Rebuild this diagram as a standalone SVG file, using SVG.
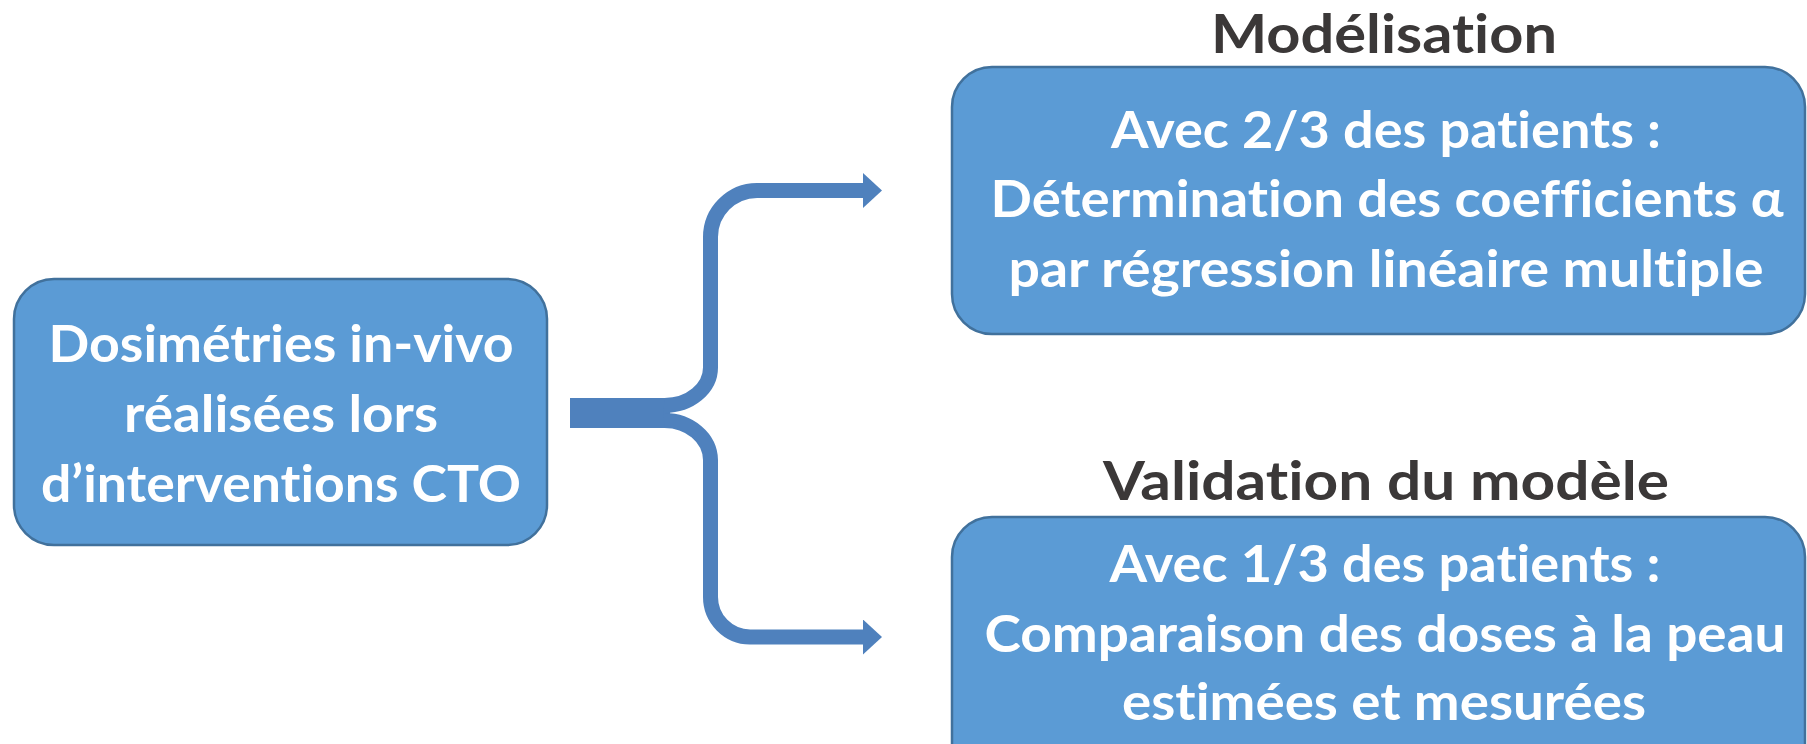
<svg xmlns="http://www.w3.org/2000/svg" width="1807" height="744" viewBox="0 0 1807 744">
  <style>
    .box { fill: #5B9BD5; stroke: #41719C; stroke-width: 2.5; }
    .txt { font-family: Lato, "Liberation Sans", sans-serif; font-weight: 700; fill: #FFFFFF; font-size: 52px; text-anchor: middle; font-variant-ligatures: none; }
    .title { font-family: Lato, "Liberation Sans", sans-serif; font-weight: 700; fill: #3B3838; font-size: 54px; text-anchor: middle; font-variant-ligatures: none; }
    .conn { fill: none; stroke: #4F81BD; stroke-width: 15; }
  </style>
  <defs>
    <marker id="arrow" markerUnits="userSpaceOnUse" markerWidth="20" markerHeight="36" refX="3" refY="17.5" orient="auto">
      <path d="M0,0 L19,17.5 L0,35 Z" fill="#4F81BD"/>
    </marker>
  </defs>
  <rect width="1807" height="744" fill="#FFFFFF"/>

  <g id="connectors">
    <rect x="570" y="398" width="100" height="30" fill="#4F81BD"/>
    <path class="conn" d="M 664 405.5 A 46 38 0 0 0 710.5 367 L 710.5 237 A 47 46.5 0 0 1 757 190.5 L 866 190.5" marker-end="url(#arrow)"/>
    <path class="conn" d="M 664 420.5 A 46 40 0 0 1 710.5 460 L 710.5 597 A 40 40 0 0 0 750 637 L 866 637" marker-end="url(#arrow)"/>
  </g>

  <g id="node-source">
    <rect class="box" x="14" y="279" width="533" height="266" rx="40" ry="40"/>
    <text class="txt" x="281" y="362" textLength="465" lengthAdjust="spacingAndGlyphs">Dosimétries in-vivo</text>
    <text class="txt" x="281" y="432" textLength="314" lengthAdjust="spacingAndGlyphs">réalisées lors</text>
    <text class="txt" x="281" y="502" textLength="480" lengthAdjust="spacingAndGlyphs">d’interventions CTO</text>
  </g>

  <g id="node-modelisation">
    <text class="title" x="1384" y="53" textLength="346" lengthAdjust="spacingAndGlyphs">Modélisation</text>
    <rect class="box" x="952" y="67" width="853" height="267" rx="40" ry="40"/>
    <text class="txt" x="1386" y="148" textLength="550" lengthAdjust="spacingAndGlyphs">Avec 2/3 des patients :</text>
    <text class="txt" x="1387" y="217" textLength="793" lengthAdjust="spacingAndGlyphs">Détermination des coefficients α</text>
    <text class="txt" x="1386" y="287" textLength="755" lengthAdjust="spacingAndGlyphs">par régression linéaire multiple</text>
  </g>

  <g id="node-validation">
    <text class="title" x="1386" y="500" textLength="566" lengthAdjust="spacingAndGlyphs">Validation du modèle</text>
    <rect class="box" x="952" y="517" width="853" height="267" rx="40" ry="40"/>
    <text class="txt" x="1385" y="582" textLength="551" lengthAdjust="spacingAndGlyphs">Avec 1/3 des patients :</text>
    <text class="txt" x="1385" y="652" textLength="801" lengthAdjust="spacingAndGlyphs">Comparaison des doses à la peau</text>
    <text class="txt" x="1384" y="720" textLength="524" lengthAdjust="spacingAndGlyphs">estimées et mesurées</text>
  </g>
</svg>
